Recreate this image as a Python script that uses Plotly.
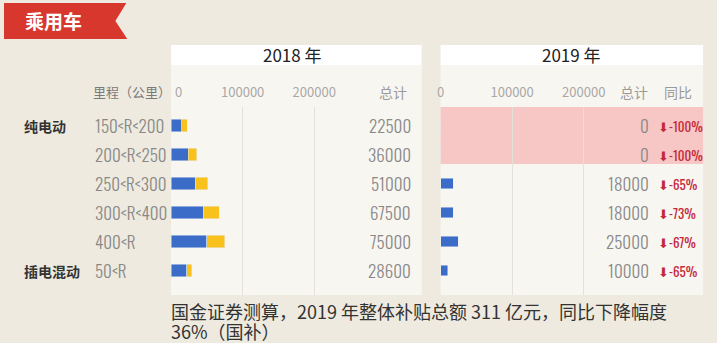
import plotly.graph_objects as go

W, H = 717, 343

ranges = ["150<R<200", "200<R<250", "250<R<300", "300<R<400", "400<R", "50<R"]
groups = {"纯电动": "150<R<200", "插电混动": "50<R"}
national_2018 = [15000, 24000, 34000, 45000, 50000, 22000]
local_2018 = [7500, 12000, 17000, 22500, 25000, 6600]
total_2018 = [22500, 36000, 51000, 67500, 75000, 28600]
national_2019 = [0, 0, 18000, 18000, 25000, 10000]
total_2019 = [0, 0, 18000, 18000, 25000, 10000]
yoy = ["-100%", "-100%", "-65%", "-73%", "-67%", "-65%"]
tick_vals = [0, 100000, 200000]
tick_text_2018 = ["", "100000", "200000"]
tick_text_2019 = ["0", "100000", "200000"]

BLUE = "#3b6cc7"
YELLOW = "#f8c11c"
PINK = "#f6c7c5"
RED = "#c5283a"
BANNER = "#d7372d"
BG = "#eeeadf"
PANEL = "#f8f6f1"
CJK = "Noto Sans CJK SC"
NARROW = "Oswald, Roboto Condensed, Archivo Narrow, Asap Condensed, sans-serif"
TICKGRAY = "#a8a8a8"


def px(x):
    return x / W


def py(y):
    return 1 - y / H


fig = go.Figure()
fig.add_trace(go.Bar(y=ranges, x=national_2018, orientation="h", marker_color=BLUE,
                     width=0.42, xaxis="x", yaxis="y", hoverinfo="skip"))
fig.add_trace(go.Bar(y=ranges, x=local_2018, orientation="h", marker_color=YELLOW,
                     width=0.42, xaxis="x", yaxis="y", hoverinfo="skip"))
fig.add_trace(go.Bar(y=ranges, x=national_2019, orientation="h", marker_color=BLUE,
                     width=0.36, xaxis="x2", yaxis="y2", hoverinfo="skip"))

yr = [5.845, -0.638]
ydom = [py(295), py(107)]
axis_common = dict(side="top", tickvals=tick_vals, showgrid=True,
                   gridcolor="#e4e1d9", gridwidth=1, zeroline=False, showline=False,
                   ticks="outside", ticklen=4, tickcolor="rgba(0,0,0,0)",
                   tickfont=dict(family=CJK, size=13, color=TICKGRAY), fixedrange=True)
fig.update_layout(
    width=W, height=H, margin=dict(l=0, r=0, t=0, b=0),
    paper_bgcolor=BG, plot_bgcolor="rgba(0,0,0,0)", showlegend=False, barmode="stack",
    xaxis=dict(domain=[px(168), px(420)], range=[0, 350000], anchor="y",
               ticktext=tick_text_2018, **axis_common),
    xaxis2=dict(domain=[px(439), px(703)], range=[0, 366667], anchor="y2",
                ticktext=tick_text_2019, **axis_common),
    yaxis=dict(domain=ydom, range=yr, type="category", categoryorder="array",
               categoryarray=ranges, showticklabels=False, showgrid=False, zeroline=False,
               anchor="x", fixedrange=True),
    yaxis2=dict(domain=ydom, range=yr, type="category", categoryorder="array",
                categoryarray=ranges, showticklabels=False, showgrid=False, zeroline=False,
                anchor="x2", fixedrange=True),
)

shapes = []
for x0, x1 in [(168, 420), (439, 703)]:
    shapes.append(dict(type="rect", xref="paper", yref="paper", x0=px(x0), x1=px(x1),
                       y0=py(295), y1=py(65), fillcolor=PANEL, line_width=0, layer="below"))
    shapes.append(dict(type="rect", xref="paper", yref="paper", x0=px(x0), x1=px(x1),
                       y0=py(65), y1=py(45), fillcolor="#ffffff", line_width=0, layer="below"))
shapes.append(dict(type="rect", xref="paper", yref="paper", x0=px(439), x1=px(703),
                   y0=py(164), y1=py(107), fillcolor=PINK, line_width=0, layer="below"))
path = "M {} {} L {} {} L {} {} L {} {} L {} {} Z".format(
    px(0), py(3), px(123), py(3), px(112), py(21), px(124), py(39), px(0), py(39))
shapes.append(dict(type="path", xref="paper", yref="paper", path=path,
                   fillcolor=BANNER, line_width=0, layer="below"))
fig.update_layout(shapes=shapes)

ann = []


def text(x, y, s, size, color, family=CJK, xanchor="left", bold=False):
    ann.append(dict(x=x, y=y, xref="paper", yref="paper", text=("<b>%s</b>" % s) if bold else s,
                    showarrow=False, xanchor=xanchor, yanchor="middle",
                    font=dict(family=family, size=size, color=color)))


def rowtext(x, cat, s, size, color, family=NARROW, xanchor="left", weight=300):
    ann.append(dict(x=x, y=cat, xref="paper", yref="y", text=s, showarrow=False,
                    xanchor=xanchor, yanchor="middle",
                    font=dict(family=family, size=size, color=color, weight=weight)))


text(px(19), py(21), "乘用车", 19, "#ffffff", bold=True)
text(px(290), py(55), "2018 年", 17, "#222222", xanchor="center")
text(px(571), py(55), "2019 年", 17, "#222222", xanchor="center")
text(px(87), py(92), "里程（公里）", 13, "#7a7a7a")
ann.append(dict(x=tick_vals[0], y=py(92), xref="x", yref="paper", text="0", showarrow=False,
                xanchor="left", yanchor="middle", xshift=2,
                font=dict(family=CJK, size=13, color=TICKGRAY)))
text(px(391), py(92), "总计", 14, "#9a9a9a", xanchor="center")
text(px(634), py(92), "总计", 14, "#9a9a9a", xanchor="center")
text(px(678), py(92), "同比", 14, "#9a9a9a", xanchor="center")

for g, cat in groups.items():
    rowtext(px(18), cat, "<b>%s</b>" % g, 14, "#333333", family=CJK, weight=None)

for i, cat in enumerate(ranges):
    rowtext(px(89), cat, cat, 17, "#888888")
    rowtext(px(411), cat, str(total_2018[i]), 17, "#888888", xanchor="right")
    rowtext(px(651), cat, str(total_2019[i]), 17, "#888888", xanchor="right")
    rowtext(px(656), cat, "⬇" + yoy[i], 13, RED, weight=400)

text(px(166), py(311), "国金证券测算，2019 年整体补贴总额 311 亿元，同比下降幅度", 18, "#333333")
text(px(166), py(330.5), "36%（国补）", 18, "#333333")

fig.update_layout(annotations=ann)
fig.write_html("out.html")
